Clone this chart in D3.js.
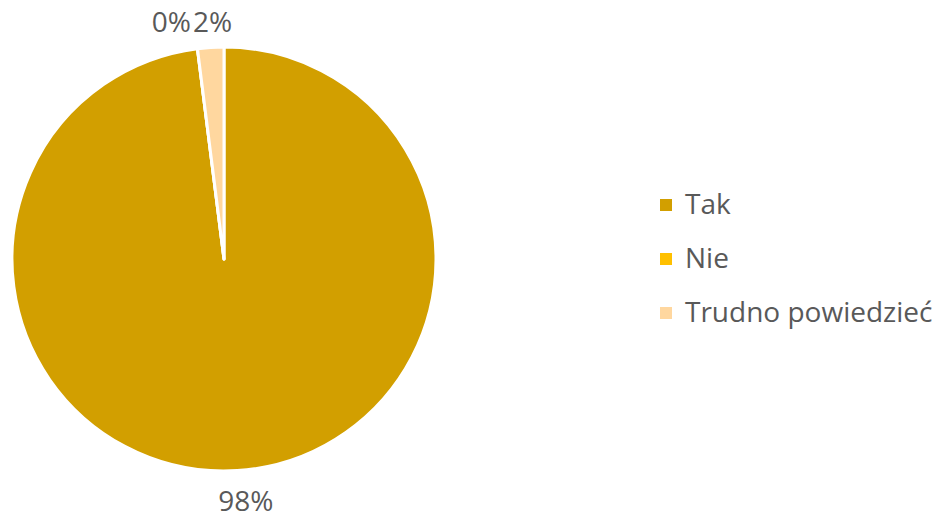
<!DOCTYPE html>
<html>
<head>
<meta charset="utf-8">
<script src="https://cdn.jsdelivr.net/npm/d3@7"></script>
<style>
  html, body { margin: 0; padding: 0; background: #fff; }
  svg { display: block; font-family: "Open Sans", sans-serif; }
</style>
</head>
<body>
<svg id="chart" width="936" height="518"></svg>
<script>
// Survey answers and their shares (%)
const categories = ["Tak", "Nie", "Trudno powiedzieć"];
const shares = [98, 0, 2];
const labels = ["98%", "0%", "2%"];
const colors = ["#D29F00", "#FFC000", "#FFD79F"];

const svg = d3.select("#chart");
const cx = 224, cy = 259, r = 212;
const textColor = "#595959";
const fontSize = 28;

const pie = d3.pie().sort(null).value(d => d)(shares);
const arc = d3.arc().innerRadius(0).outerRadius(r);

const g = svg.append("g").attr("transform", `translate(${cx},${cy})`);
g.selectAll("path").data(pie).join("path")
  .attr("d", arc)
  .attr("fill", (d, i) => colors[i])
  .attr("stroke", "#fff")
  .attr("stroke-width", 3)
  .attr("stroke-linejoin", "round");

// Data labels just outside the rim; the two small slices share the top spot
const labelArc = d3.arc().innerRadius(r + 40).outerRadius(r + 40);
const labelPlace = [
  d => ({ x: labelArc.centroid(d)[0] + 6, y: r + 40, anchor: "middle" }),
  d => ({ x: -33, y: -r - 15, anchor: "end" }),
  d => ({ x: -31, y: -r - 15, anchor: "start" })
];
g.selectAll("text.lbl").data(pie).join("text")
  .attr("class", "lbl")
  .each(function (d, i) {
    const p = labelPlace[i](d);
    d3.select(this).attr("x", p.x).attr("y", p.y).attr("text-anchor", p.anchor);
  })
  .attr("fill", textColor)
  .attr("font-size", fontSize)
  .text((d, i) => labels[i]);

// Legend
const legend = svg.append("g").attr("transform", "translate(660,205)");
const items = legend.selectAll("g").data(categories).join("g")
  .attr("transform", (d, i) => `translate(0,${i * 54})`);
items.append("rect")
  .attr("x", 0).attr("y", -6).attr("width", 12).attr("height", 12)
  .attr("fill", (d, i) => colors[i]);
items.append("text")
  .attr("x", 25).attr("y", 9)
  .attr("fill", textColor)
  .attr("font-size", fontSize)
  .text(d => d);
</script>
</body>
</html>
